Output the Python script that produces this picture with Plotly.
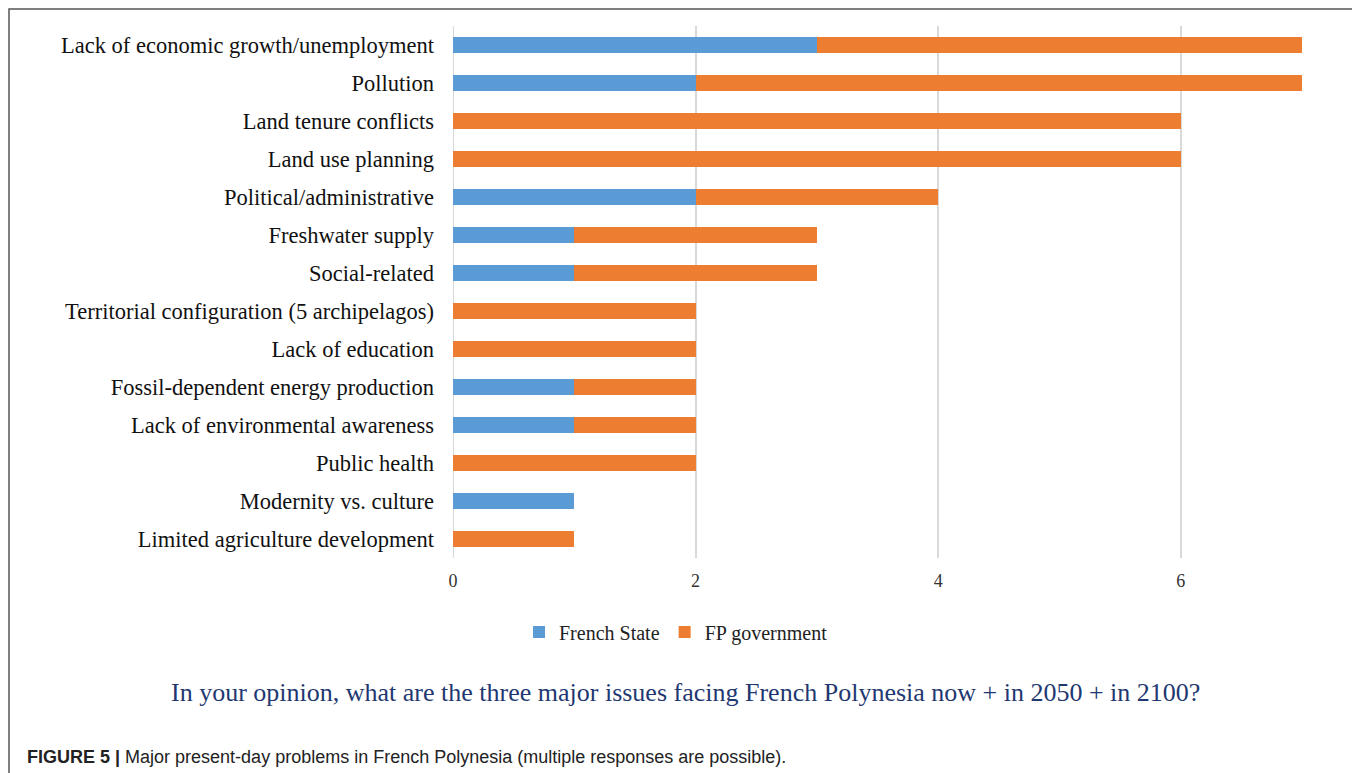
import plotly.graph_objects as go

categories = [
    "Lack of economic growth/unemployment",
    "Pollution",
    "Land tenure conflicts",
    "Land use planning",
    "Political/administrative",
    "Freshwater supply",
    "Social-related",
    "Territorial configuration (5 archipelagos)",
    "Lack of education",
    "Fossil-dependent energy production",
    "Lack of environmental awareness",
    "Public health",
    "Modernity vs. culture",
    "Limited agriculture development",
]
french_state = [3, 2, 0, 0, 2, 1, 1, 0, 0, 1, 1, 0, 1, 0]
fp_government = [4, 5, 6, 6, 2, 2, 2, 2, 2, 1, 1, 2, 0, 1]
x_ticks = [0, 2, 4, 6]

# page has an 8px body margin; work in page pixels and shift
OFF = 8
W, H = 1360 - OFF, 773 - OFF
L, R, T, B = 453 - OFF, 58, 26 - OFF, 215
pw, ph = W - L - R, H - T - B

def px(x):
    return (x - OFF - L) / pw

def py(y):
    return (H - B - (y - OFF)) / ph

serif = "Liberation Serif, Times New Roman, serif"

fig = go.Figure()
fig.add_trace(go.Bar(y=categories, x=french_state, name="French State", orientation="h",
                     marker=dict(color="#5B9BD5", line=dict(width=0)), width=0.4))
fig.add_trace(go.Bar(y=categories, x=fp_government, name="FP government", orientation="h",
                     marker=dict(color="#ED7D31", line=dict(width=0)), width=0.4))

fig.update_layout(
    barmode="stack",
    width=W, height=H,
    margin=dict(l=L, r=R, t=T, b=B, autoexpand=False),
    paper_bgcolor="white", plot_bgcolor="white",
    font=dict(family=serif, color="#222222"),
    showlegend=True,
    legend=dict(orientation="h", x=px(676), xanchor="center", y=py(632), yanchor="middle",
                font=dict(family=serif, size=20, color="#222222"), itemwidth=30,
                traceorder="normal"),
    xaxis=dict(range=[0, 7], tickvals=x_ticks, showgrid=True, gridcolor="#D9D9D9", gridwidth=2,
               zeroline=False, showline=False, ticks="",
               tickfont=dict(family=serif, size=18, color="#333333"), ticklabelstandoff=10),
    yaxis=dict(autorange="reversed", showgrid=False, showline=False, ticks="",
               tickfont=dict(family=serif, size=22.5, color="#111111"), ticklabelstandoff=18),
    shapes=[
        dict(type="rect", xref="paper", yref="paper", x0=px(9), x1=px(1355), y0=py(800), y1=py(9),
             line=dict(color="#555555", width=1.5), fillcolor="rgba(0,0,0,0)", layer="below"),
        dict(type="line", xref="x", yref="paper", x0=0, x1=0, y0=0, y1=1,
             line=dict(color="#D9D9D9", width=2), layer="below"),
    ],
    annotations=[
        dict(text="In your opinion, what are the three major issues facing French Polynesia now + in 2050 + in 2100?",
             xref="paper", yref="paper", x=px(685), y=py(692), xanchor="center", yanchor="middle",
             showarrow=False, font=dict(family=serif, size=26, color="#1F3871")),
        dict(text="<b>FIGURE 5 |</b> Major present-day problems in French Polynesia (multiple responses are possible).",
             xref="paper", yref="paper", x=px(25), y=py(757), xanchor="left", yanchor="middle",
             showarrow=False, font=dict(family="Liberation Sans Narrow, Arial Narrow, Liberation Sans, Arial, sans-serif",
                                         size=18, color="#222222")),
    ],
)

fig.write_html("out.html")
